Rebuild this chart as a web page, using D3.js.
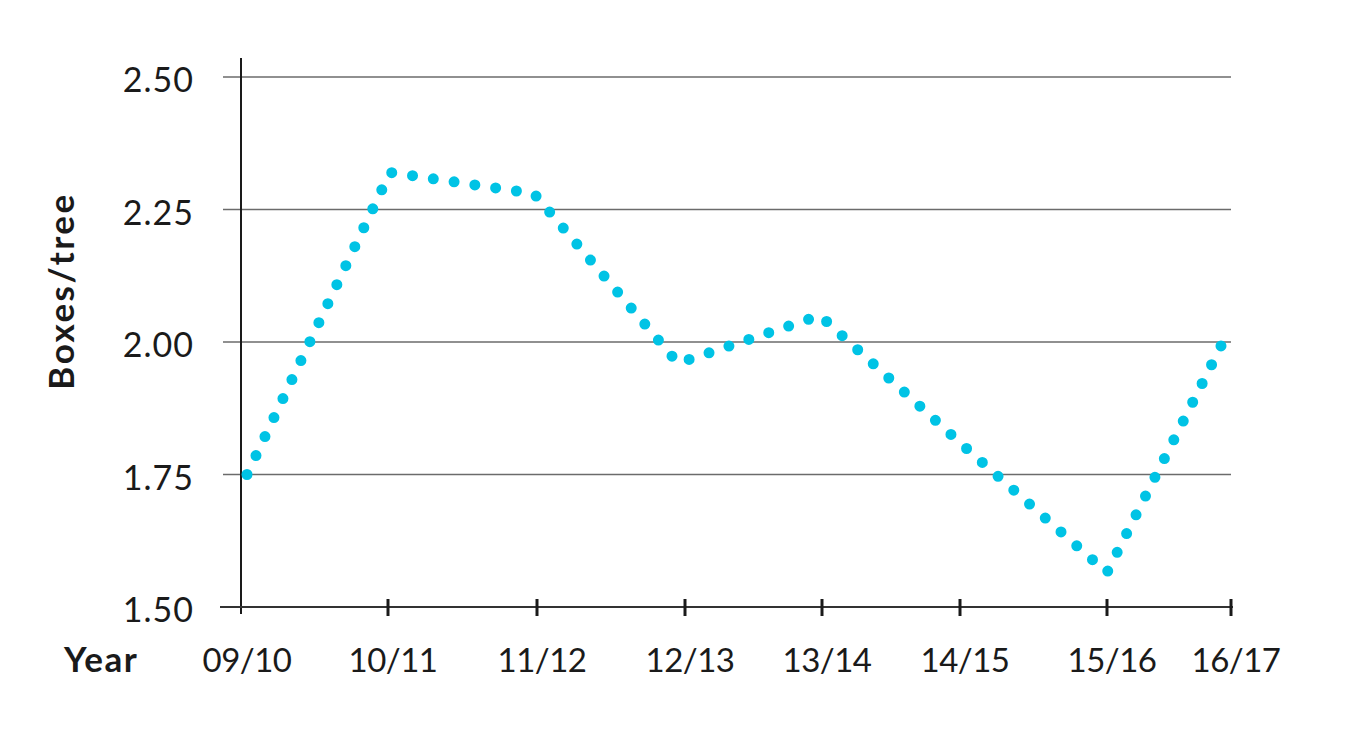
<!DOCTYPE html>
<html>
<head>
<meta charset="utf-8">
<script src="https://cdn.jsdelivr.net/npm/d3@7/dist/d3.min.js"></script>
<style>
  html, body { margin: 0; padding: 0; background: #ffffff; }
  svg { display: block; }
  text { font-family: Lato, "Noto Sans", sans-serif; fill: #1a1a1a; }
</style>
</head>
<body>
<svg id="chart" width="1345" height="731"></svg>
<script>
// ---- data ----
const years = ["09/10", "10/11", "11/12", "12/13", "13/14", "14/15", "15/16", "16/17"];
const boxesPerTree = [1.75, 2.32, 2.28, 1.96, 2.05, 1.81, 1.565, 2.00];
const yTicks = [1.50, 1.75, 2.00, 2.25, 2.50];
const yTitle = "Boxes/tree";
const xTitle = "Year";

// ---- layout ----
const svg = d3.select("#chart");
const lineColor = "#00c3e5";

// uneven tick spacing as in the reference drawing
const xPix = d3.scaleLinear()
  .domain(years.map((d, i) => i))
  .range([242, 388, 537, 685, 822, 960, 1107, 1231]);
const xPos = d => xPix(years.indexOf(d));
// the plotted line sits slightly inside the end ticks
const xLine = d3.scaleLinear()
  .domain(years.map((d, i) => i))
  .range([247, 390, 534, 678, 820, 960, 1107, 1223]);

const y = d3.scaleLinear().domain([1.5, 2.5]).range([607, 77]);

// gridlines
svg.append("g")
  .selectAll("line")
  .data(yTicks.filter(t => t > 1.5))
  .join("line")
  .attr("x1", 223).attr("x2", 1231)
  .attr("y1", d => y(d)).attr("y2", d => y(d))
  .attr("stroke", "#6b6b6b").attr("stroke-width", 1.6);

// y axis line
svg.append("line")
  .attr("x1", 241).attr("x2", 241)
  .attr("y1", 58).attr("y2", 614)
  .attr("stroke", "#1a1a1a").attr("stroke-width", 2);

// x axis line + ticks
svg.append("line")
  .attr("x1", 220).attr("x2", 1233)
  .attr("y1", y(1.5)).attr("y2", y(1.5))
  .attr("stroke", "#333").attr("stroke-width", 2);

svg.append("g")
  .selectAll("line")
  .data(years.slice(1))
  .join("line")
  .attr("x1", d => xPos(d)).attr("x2", d => xPos(d))
  .attr("y1", y(1.5) - 8).attr("y2", y(1.5) + 9)
  .attr("stroke", "#1a1a1a").attr("stroke-width", 3);

// x tick labels
svg.append("g")
  .selectAll("text")
  .data(years)
  .join("text")
  .attr("x", d => xPos(d) + 5)
  .attr("y", 672)
  .attr("text-anchor", "middle")
  .attr("font-size", 33)
  .attr("font-weight", 400)
  .attr("letter-spacing", -0.5)
  .text(d => d);

// y tick labels
svg.append("g")
  .selectAll("text")
  .data(yTicks)
  .join("text")
  .attr("x", 194)
  .attr("y", d => y(d) + 15)
  .attr("text-anchor", "end")
  .attr("font-size", 34)
  .attr("font-weight", 400)
  .attr("letter-spacing", 1)
  .text(d => d3.format(".2f")(d));

// titles
svg.append("text")
  .attr("x", 64).attr("y", 672)
  .attr("font-size", 35)
  .attr("font-weight", 700)
  .attr("letter-spacing", 1.5)
  .text(xTitle);

svg.append("text")
  .attr("transform", `translate(74,291) rotate(-90)`)
  .attr("text-anchor", "middle")
  .attr("font-size", 35)
  .attr("font-weight", 700)
  .attr("letter-spacing", 2.5)
  .text(yTitle);

// dotted line
const line = d3.line()
  .x((d, i) => xLine(i))
  .y(d => y(d));

svg.append("path")
  .datum(boxesPerTree)
  .attr("d", line)
  .attr("fill", "none")
  .attr("stroke", lineColor)
  .attr("stroke-width", 11)
  .attr("stroke-linecap", "round")
  .attr("stroke-linejoin", "round")
  .attr("stroke-dasharray", "0 21");
</script>
</body>
</html>
